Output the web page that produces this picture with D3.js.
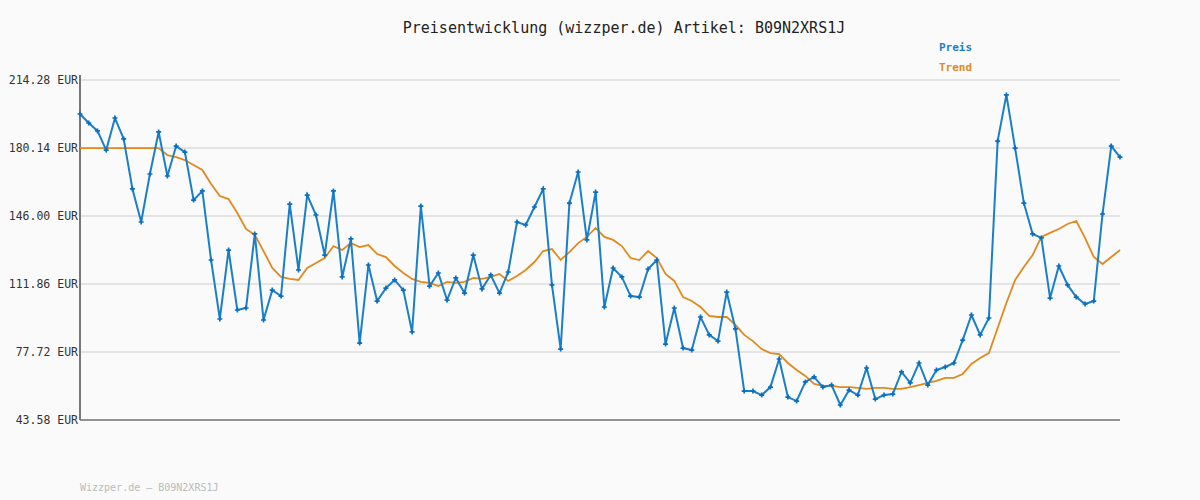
<!DOCTYPE html>
<html><head><meta charset="utf-8">
<script src="https://cdn.jsdelivr.net/npm/d3@7"></script>
<style>body{margin:0;background:#fafafa}text{font-family:"DejaVu Sans Mono",monospace}</style>
</head><body><div id="chart"></div>
<script>
const yTicks = [43.58, 77.72, 111.86, 146.00, 180.14, 214.28];
const preis = [197.2,192.7,188.7,179.1,195.2,184.7,159.6,143.0,167.1,188.2,166.1,181.1,178.1,154.0,158.6,123.9,94.3,128.9,98.8,99.8,
  137.0,93.8,108.8,105.8,152.0,118.9,156.5,146.5,126.4,158.6,115.4,134.5,82.2,121.4,103.3,109.8,113.9,108.8,87.8,151.0,
  110.8,117.4,103.8,114.9,107.3,126.4,109.4,116.4,107.3,117.9,143.0,141.5,150.5,159.6,111.4,79.2,152.5,168.1,134.0,158.0,
  100.3,119.9,115.4,105.8,105.3,119.4,123.9,81.7,99.8,79.7,78.7,95.3,86.3,83.2,107.8,89.3,58.1,58.1,56.1,60.1,
  74.2,55.1,53.1,62.7,65.2,60.1,61.1,51.1,58.6,56.1,69.7,54.1,56.1,56.6,67.7,62.2,72.2,61.1,68.7,70.2,
  72.2,83.7,96.3,86.3,94.8,183.6,206.8,180.1,152.5,137.0,135.0,104.8,120.9,111.4,105.3,101.8,103.3,147.0,181.1,175.6];
const trend = [180.1,180.1,180.1,180.1,180.1,180.1,180.1,180.1,180.1,180.1,176.6,175.6,174.1,171.6,169.1,162.1,156.0,154.5,147.5,139.5,
  136.5,128.4,119.9,115.4,114.4,113.9,119.9,122.4,124.9,130.9,128.9,132.4,130.4,131.4,126.9,125.4,120.9,117.4,114.4,112.9,
  112.4,110.8,112.9,112.4,112.9,114.9,114.4,115.4,116.9,113.4,115.9,118.9,122.9,128.4,129.4,123.9,127.9,132.4,135.5,140.0,
  135.5,134.0,130.9,124.9,123.9,128.4,124.9,116.9,113.4,105.3,103.3,100.3,95.8,95.3,95.3,91.3,86.3,83.2,79.2,77.2,
  76.7,72.2,68.7,65.7,61.7,60.7,60.7,60.1,60.1,59.7,59.2,59.7,59.7,59.2,59.2,60.1,61.1,62.2,63.2,64.7,
  64.7,66.7,71.7,74.7,77.2,89.8,102.3,113.9,120.4,126.4,135.5,137.5,139.5,142.0,143.5,135.0,125.4,121.9,125.4,128.9];

const W = 1200, H = 500, L = 80, R = 1120, T = 80, B = 420;
const svg = d3.select("#chart").append("svg").attr("width", W).attr("height", H);
svg.append("rect").attr("width", W).attr("height", H).attr("fill", "#fafafa");

const x = d3.scaleLinear().domain([0, preis.length - 1]).range([L, R]);
const y = d3.scaleLinear().domain([43.58, 214.28]).range([B, T]);

// grid + y labels
yTicks.forEach(t => {
  svg.append("line").attr("x1", L).attr("x2", R).attr("y1", y(t)).attr("y2", y(t))
    .attr("stroke", "#e4e4e4").attr("stroke-width", 2);
  svg.append("text").attr("x", 78).attr("y", y(t) + 4).attr("text-anchor", "end")
    .style("font-size", "11.5px").style("fill", "#333").text(t.toFixed(2) + " EUR");
});
svg.append("line").attr("x1", L).attr("x2", L).attr("y1", T - 5).attr("y2", B).attr("stroke", "#777").attr("stroke-width", 2);
svg.append("line").attr("x1", L).attr("x2", R).attr("y1", B).attr("y2", B).attr("stroke", "#777").attr("stroke-width", 1.5);

const line = d3.line().x((d, i) => x(i)).y(d => y(d));
svg.append("path").attr("d", line(trend)).attr("fill", "none").attr("stroke", "#e08a1e").attr("stroke-width", 1.8);
svg.append("path").attr("d", line(preis)).attr("fill", "none").attr("stroke", "#1a7fc9").attr("stroke-width", 2);
svg.selectAll(".m").data(preis).enter().append("path")
  .attr("transform", (d, i) => `translate(${x(i)},${y(d)})`)
  .attr("d", d3.symbol(d3.symbolCross, 14)).attr("fill", "#0a6fc0");

svg.append("text").attr("x", 624).attr("y", 33).attr("text-anchor", "middle")
  .style("font-size", "15px").style("fill", "#222").text("Preisentwicklung (wizzper.de) Artikel: B09N2XRS1J");
svg.append("text").attr("x", 939).attr("y", 51).style("font-size", "11px").style("font-weight", "bold")
  .style("fill", "#1a7fc9").text("Preis");
svg.append("text").attr("x", 939).attr("y", 71).style("font-size", "11px").style("font-weight", "bold")
  .style("fill", "#e08a1e").text("Trend");
svg.append("text").attr("x", 80).attr("y", 491).style("font-size", "10px")
  .style("fill", "#bbb").text("Wizzper.de – B09N2XRS1J");
</script></body></html>
